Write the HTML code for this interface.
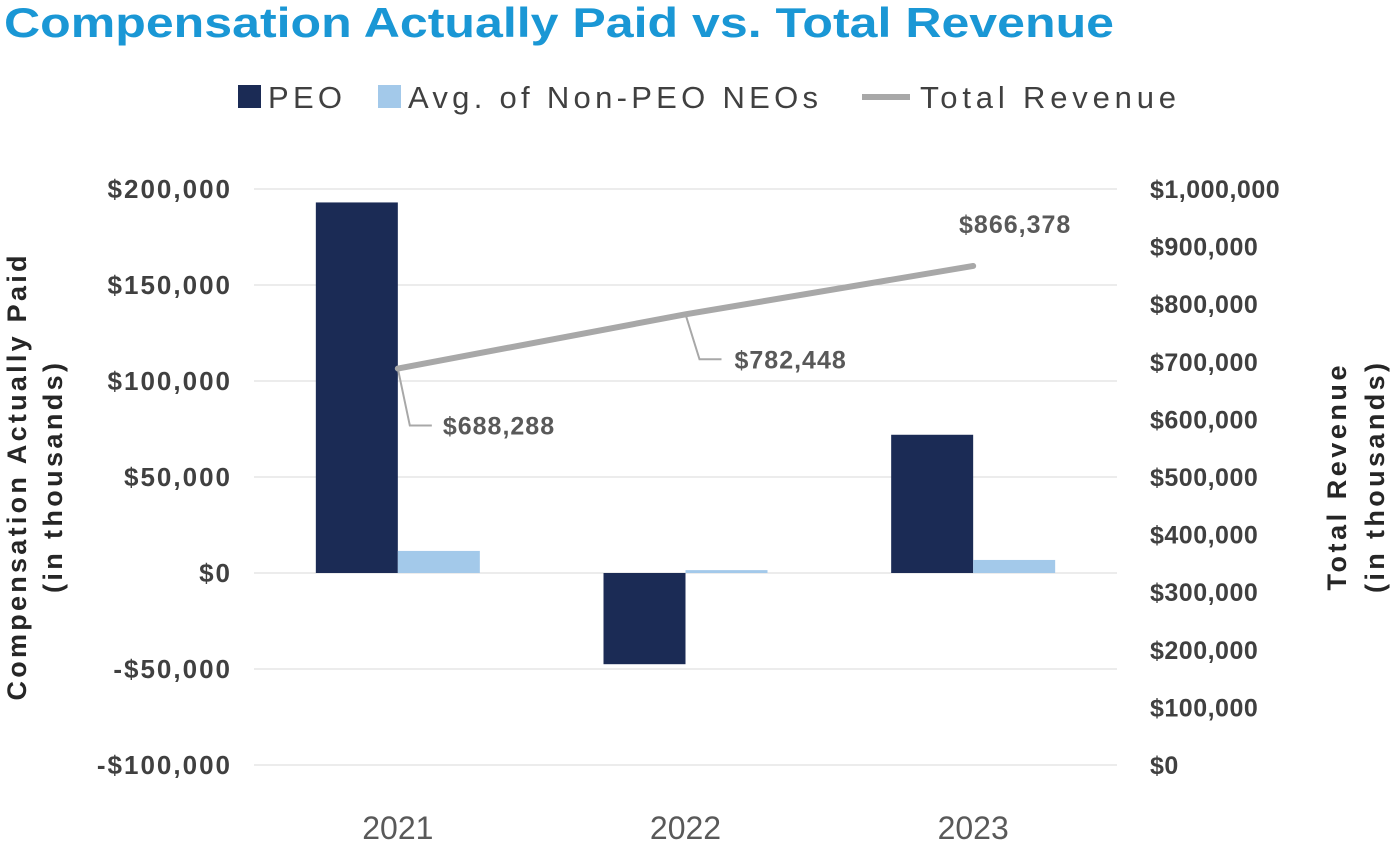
<!DOCTYPE html>
<html><head><meta charset="utf-8"><style>
body{margin:0;background:#fff;width:1392px;height:848px;overflow:hidden;font-family:"Liberation Sans",sans-serif}
</style></head><body>
<svg width="1392" height="848" viewBox="0 0 1392 848" xmlns="http://www.w3.org/2000/svg" id="svg">
<text x="4" y="37" font-size="42" font-weight="bold" fill="#1a97d5" textLength="1110" lengthAdjust="spacingAndGlyphs">Compensation Actually Paid vs. Total Revenue</text>
<g font-size="31" fill="#404040">
<rect x="238" y="85" width="23" height="23" fill="#1b2b55"/>
<text x="268" y="108" textLength="74">PEO</text>
<rect x="378" y="85" width="23" height="23" fill="#a3c9ea"/>
<text x="408" y="108" textLength="410">Avg. of Non-PEO NEOs</text>
<line x1="862" y1="97" x2="910" y2="97" stroke="#a8a8a8" stroke-width="6"/>
<text x="920" y="108" textLength="256">Total Revenue</text>
</g>
<text transform="translate(26,478) rotate(-90)" text-anchor="middle" font-size="27" font-weight="bold" fill="#262626" textLength="445">Compensation Actually Paid</text>
<text transform="translate(62,478) rotate(-90)" text-anchor="middle" font-size="27" font-weight="bold" fill="#262626" textLength="230">(in thousands)</text>
<text transform="translate(1346,478) rotate(-90)" text-anchor="middle" font-size="27" font-weight="bold" fill="#262626" textLength="225">Total Revenue</text>
<text transform="translate(1384,478) rotate(-90)" text-anchor="middle" font-size="27" font-weight="bold" fill="#262626" textLength="230">(in thousands)</text>
<g id="plot"></g>
</svg>
<script>
const categories=["2021","2022","2023"];
const peoValues=[193000,-47500,72000];
const nonPeoValues=[11500,1500,6800];
const revenueValues=[688288,782448,866378];
const revenueLabels=["$688,288","$782,448","$866,378"];
const leftTicks=[200000,150000,100000,50000,0,-50000,-100000];
const leftTickLabels=["$200,000","$150,000","$100,000","$50,000","$0","-$50,000","-$100,000"];
const rightTicks=[1000000,900000,800000,700000,600000,500000,400000,300000,200000,100000,0];
const rightTickLabels=["$1,000,000","$900,000","$800,000","$700,000","$600,000","$500,000","$400,000","$300,000","$200,000","$100,000","$0"];

const NS="http://www.w3.org/2000/svg";
const g=document.getElementById('plot');
const X0=254,X1=1117,TOP=189,BOT=765;
const yL=v=>TOP+(200000-v)/300000*(BOT-TOP);
const yR=v=>TOP+(1000000-v)/1000000*(BOT-TOP);
const cw=(X1-X0)/categories.length;
const xc=i=>X0+cw*(i+0.5);
function el(t,a){const e=document.createElementNS(NS,t);for(const k in a)e.setAttribute(k,a[k]);g.appendChild(e);return e;}
leftTicks.forEach((v,i)=>{
 const l=el('line',{x1:X0,x2:X1,y1:yL(v),y2:yL(v),stroke:'#d9d9d9','stroke-width':1});
 
 
 const t=el('text',{x:232,y:yL(v)+9,'text-anchor':'end','font-size':26,'font-weight':'bold',fill:'#404040','letter-spacing':2});
 t.textContent=leftTickLabels[i];
 
 
});
rightTicks.forEach((v,i)=>{
 const t=el('text',{x:1150,y:yR(v)+9,'font-size':25,'font-weight':'bold',fill:'#404040','letter-spacing':0.5});
 t.textContent=rightTickLabels[i];
 
 
});
const bw=82;
categories.forEach((c,i)=>{
 const x=xc(i),y0=yL(0);
 const p=peoValues[i],yp=yL(p);
 const b=el('rect',{x:x-bw,y:Math.min(yp,y0),width:bw,height:Math.abs(yp-y0),fill:'#1b2b55'});
 
 
 const n=nonPeoValues[i],yn=yL(n);
 const b2=el('rect',{x:x,y:Math.min(yn,y0),width:bw,height:Math.abs(yn-y0),fill:'#a3c9ea'});
 
 
 const t=el('text',{x:x,y:839,'text-anchor':'middle','font-size':32,fill:'#595959'});
 t.textContent=c;
 
 
});
const pts=revenueValues.map((v,i)=>[xc(i),yR(v)]);
const line=el('polyline',{points:pts.map(p=>p.join(',')).join(' '),fill:'none',stroke:'#a8a8a8','stroke-width':6,'stroke-linecap':'round'});


const offs=[[12,57,45],[14,45,49],[null,-42,42]];
pts.forEach((p,i)=>{
 const [dx,dy,tx]=offs[i];
 if(dx!==null){
  const ld=el('polyline',{points:`${p[0]},${p[1]} ${p[0]+dx},${p[1]+dy} ${p[0]+dx+22},${p[1]+dy}`,fill:'none',stroke:'#a8a8a8','stroke-width':2});
  
  
 }
 const t=el('text',{x:p[0]+tx,y:p[1]+dy+9,'text-anchor':dx===null?'middle':'start','font-size':25,'font-weight':'bold',fill:'#595959','letter-spacing':1});
 t.textContent=revenueLabels[i];
 
 
});
</script>
</body></html>
